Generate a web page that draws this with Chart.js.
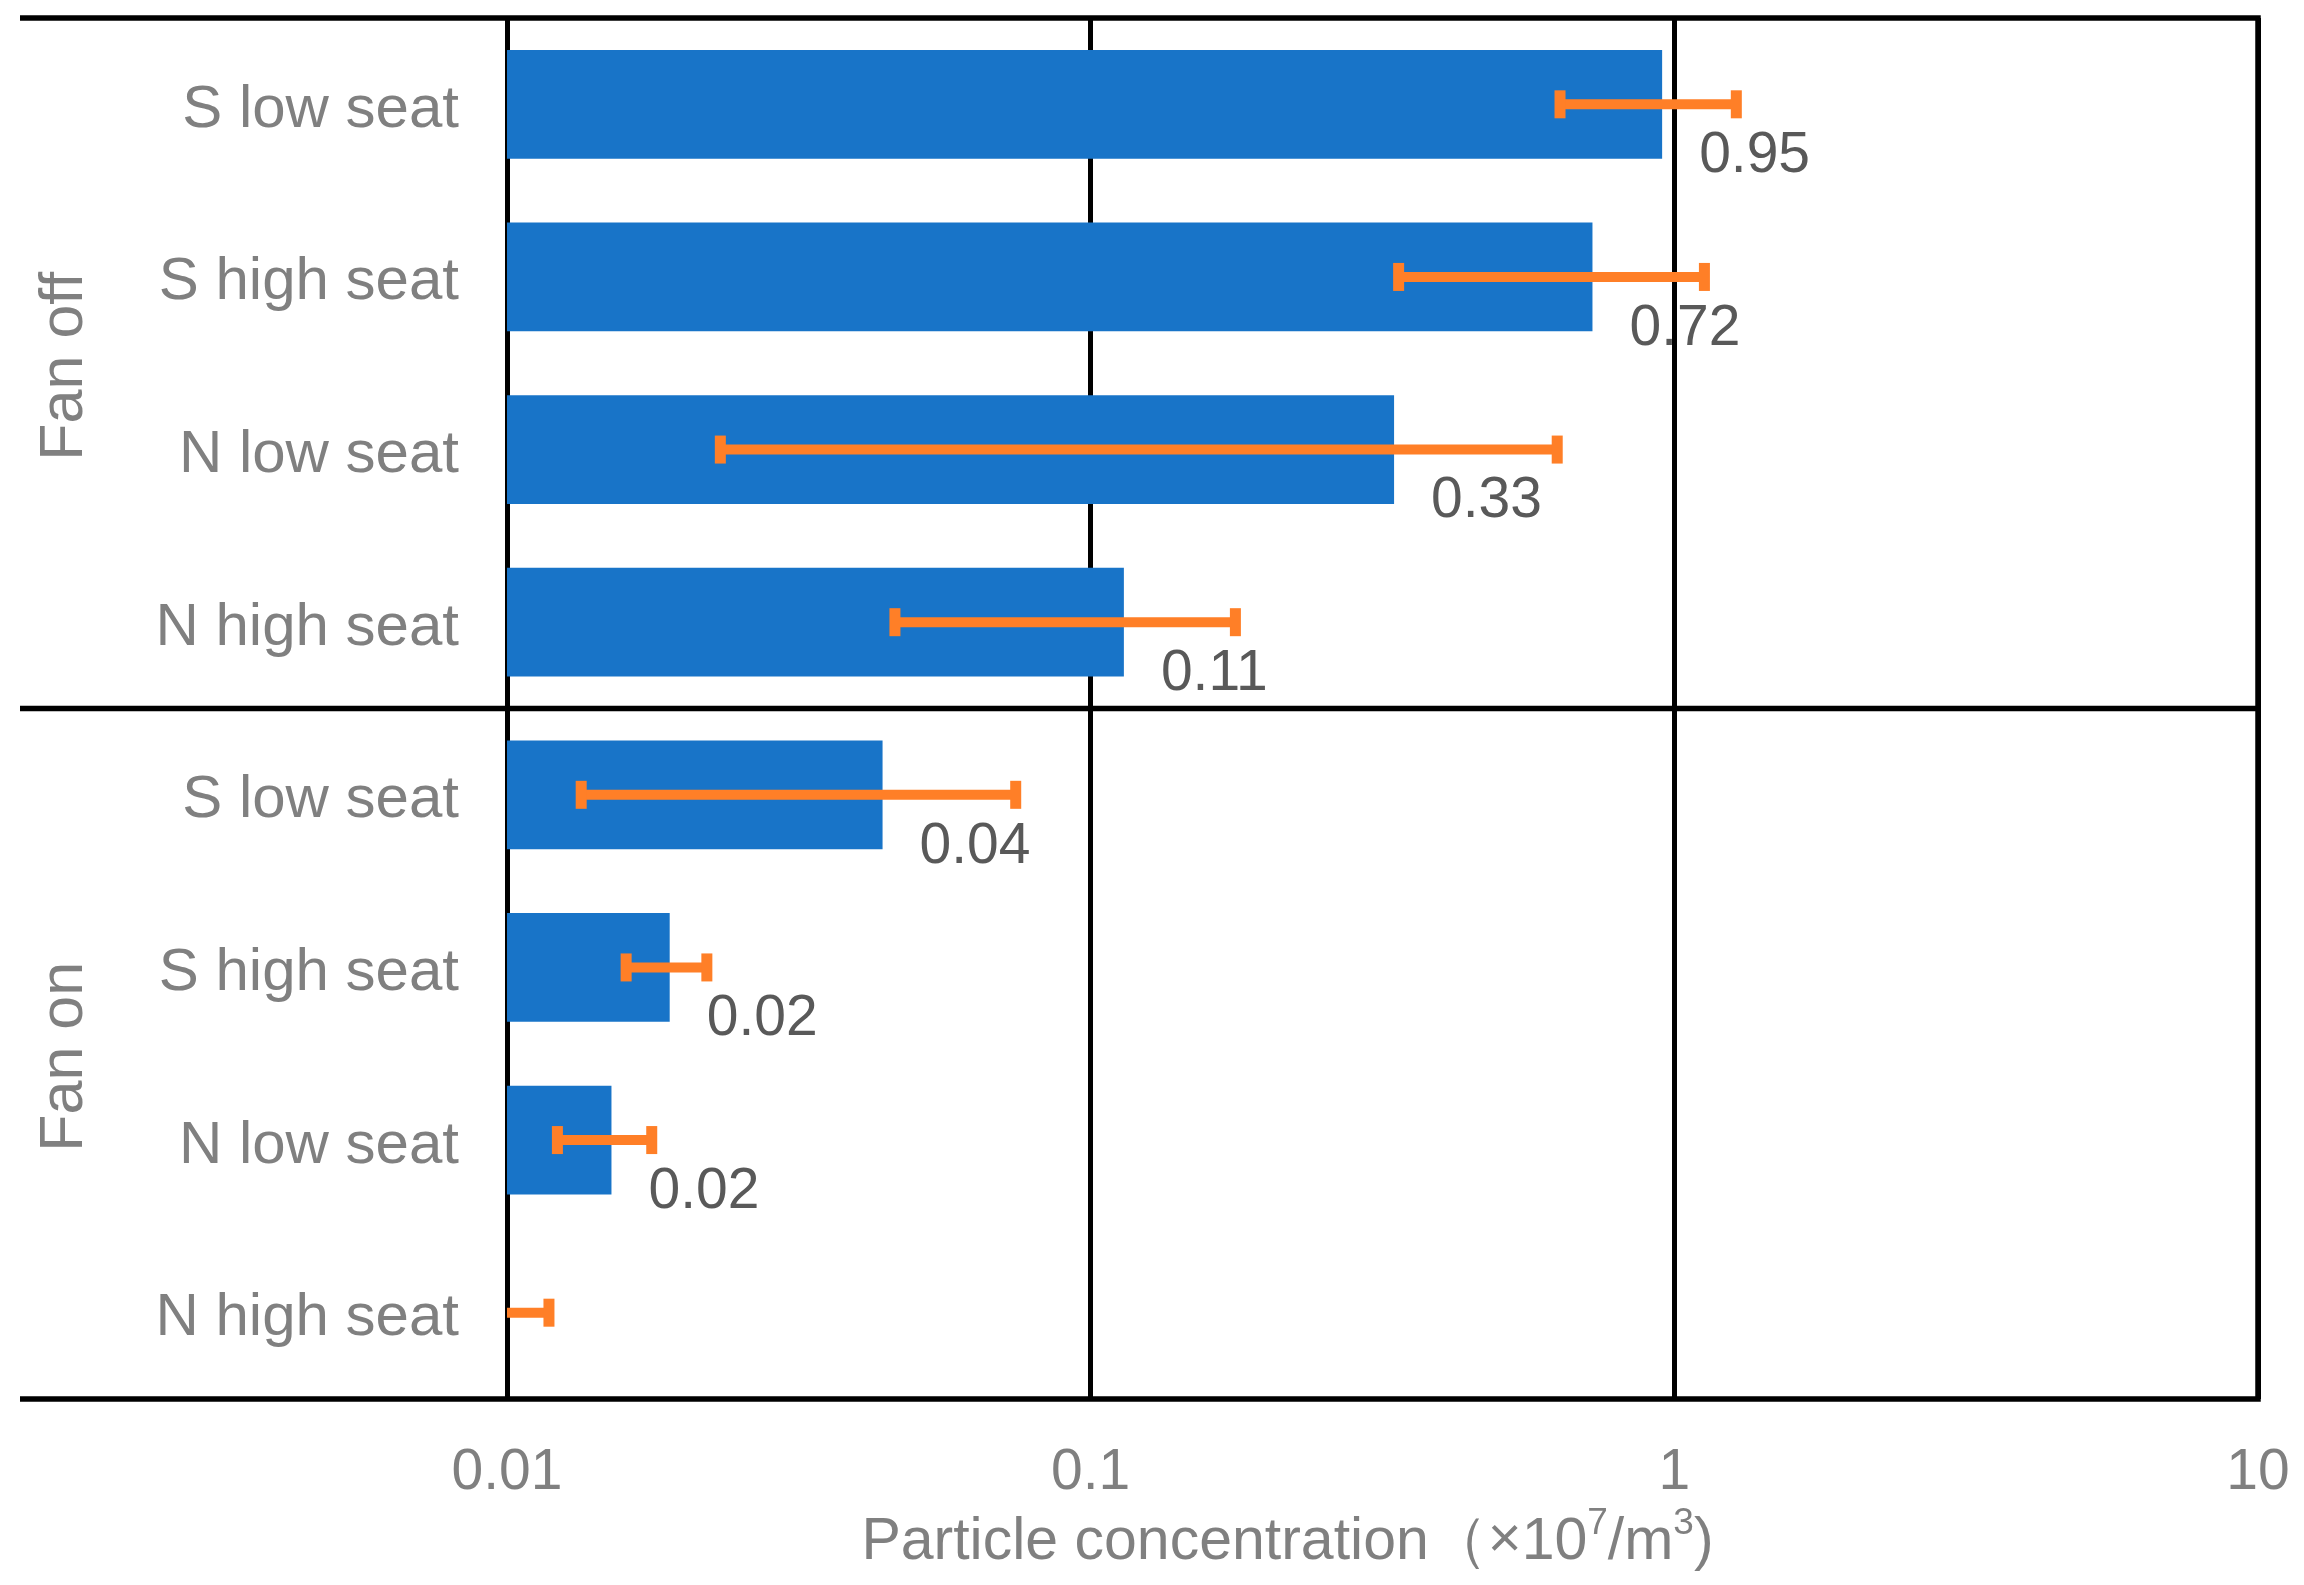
<!DOCTYPE html>
<html>
<head>
<meta charset="utf-8">
<script src="https://cdn.jsdelivr.net/npm/chart.js@4/dist/chart.umd.min.js"></script>
<style>
html,body{margin:0;padding:0;background:#fff;}
#wrap{width:2304px;height:1585px;}
</style>
</head>
<body>
<div id="wrap"><canvas id="c" width="2304" height="1585"></canvas></div>
<script>
const categories = ['S low seat','S high seat','N low seat','N high seat','S low seat','S high seat','N low seat','N high seat'];
const groups = ['Fan off','Fan on'];
const groupSize = [4, 4];
const values = [0.953, 0.724, 0.331, 0.114, 0.044, 0.019, 0.0151, 0.01];
const errLow = [0.637, 0.337, 0.0232, 0.0462, 0.0134, 0.0160, 0.0122, 0.0085];
const errHigh = [1.277, 1.126, 0.630, 0.177, 0.0744, 0.0220, 0.0177, 0.0118];
const valueLabels = ['0.95','0.72','0.33','0.11','0.04','0.02','0.02',''];
const xTicks = [0.01, 0.1, 1, 10];
const xTickLabels = ['0.01','0.1','1','10'];

const FONT = "'Liberation Sans', Arial, sans-serif";
const BLUE = '#1874C8';
const ORANGE = '#FF7F27';

const decor = {
  id: 'decor',
  afterDatasetsDraw(chart) {
    const ctx = chart.ctx, xs = chart.scales.x, ys = chart.scales.y, ca = chart.chartArea;
    // error bars
    ctx.save();
    ctx.beginPath();
    ctx.rect(ca.left, ca.top, ca.right - ca.left, ca.bottom - ca.top);
    ctx.clip();
    ctx.strokeStyle = ORANGE;
    ctx.fillStyle = ORANGE;
    ctx.lineWidth = 10;
    for (let i = 0; i < values.length; i++) {
      const y = ys.getPixelForValue(i);
      const x1 = xs.getPixelForValue(errLow[i]);
      const x2 = xs.getPixelForValue(errHigh[i]);
      ctx.beginPath();
      ctx.moveTo(x1, y); ctx.lineTo(x2, y); ctx.stroke();
      ctx.fillRect(x1 - 5.5, y - 14, 11, 28);
      ctx.fillRect(x2 - 5.5, y - 14, 11, 28);
    }
    ctx.restore();
    // value labels
    ctx.save();
    ctx.font = '57px ' + FONT;
    ctx.fillStyle = '#595959';
    ctx.textAlign = 'left';
    ctx.textBaseline = 'middle';
    for (let i = 0; i < values.length; i++) {
      if (!valueLabels[i]) continue;
      const y = ys.getPixelForValue(i);
      const x = xs.getPixelForValue(values[i]);
      ctx.fillText(valueLabels[i], x + 37, y + 52);
    }
    ctx.restore();
  },
  afterDraw(chart) {
    const ctx = chart.ctx, xs = chart.scales.x, ys = chart.scales.y, ca = chart.chartArea;
    ctx.save();
    ctx.strokeStyle = '#000';
    ctx.lineWidth = 5.5;
    const x0 = 20, x1 = ca.right + 2.75;
    const lines = [ca.top, ca.bottom];
    let idx = 0;
    for (let g = 0; g < groups.length - 1; g++) {
      idx += groupSize[g];
      lines.push((ys.getPixelForValue(idx - 1) + ys.getPixelForValue(idx)) / 2);
    }
    lines.forEach(y => { ctx.beginPath(); ctx.moveTo(x0, y); ctx.lineTo(x1, y); ctx.stroke(); });
    // right border
    ctx.beginPath(); ctx.moveTo(ca.right, ca.top); ctx.lineTo(ca.right, ca.bottom); ctx.stroke();
    ctx.restore();

    // group labels
    ctx.save();
    ctx.font = '61px ' + FONT;
    ctx.fillStyle = '#808080';
    ctx.textAlign = 'center';
    ctx.textBaseline = 'middle';
    let start = 0;
    groups.forEach((g, gi) => {
      const end = start + groupSize[gi] - 1;
      const yc = (ys.getPixelForValue(start) + ys.getPixelForValue(end)) / 2;
      ctx.save();
      ctx.translate(65, yc + 3);
      ctx.rotate(-Math.PI / 2);
      ctx.fillText(g, 0, 0);
      ctx.restore();
      start += groupSize[gi];
    });
    ctx.restore();

    // x axis title with superscripts
    ctx.save();
    ctx.fillStyle = '#808080';
    ctx.textBaseline = 'alphabetic';
    const big = '59px ' + FONT, small = '37px ' + FONT;
    const parts = [
      ['Particle concentration', big, 0],
      ['\uFF08', big, 0],
      ['\u00D7', '58px ' + FONT, -2],
      ['10', big, 0],
      ['7', small, -25],
      ['/m', big, 0],
      ['3', small, -25],
      [')', big, 0]
    ];
    let total = 0;
    parts.forEach(p => { ctx.font = p[1]; p.push(ctx.measureText(p[0]).width); total += p[3]; });
    let x = (ca.left + ca.right) / 2 - 95 - total / 2;
    const yb = ca.bottom + 160;
    parts.forEach(p => { ctx.font = p[1]; ctx.fillText(p[0], x, yb + p[2]); x += p[3]; });
    ctx.restore();
  }
};

new Chart(document.getElementById('c'), {
  type: 'bar',
  data: {
    labels: categories,
    datasets: [{
      data: values,
      backgroundColor: BLUE,
      borderWidth: 0,
      barPercentage: 0.63,
      categoryPercentage: 1.0
    }]
  },
  options: {
    indexAxis: 'y',
    responsive: false,
    animation: false,
    devicePixelRatio: 1,
    layout: { padding: { left: 0, right: 46, top: 18, bottom: 0 } },
    plugins: { legend: { display: false }, tooltip: { enabled: false } },
    scales: {
      x: {
        type: 'logarithmic',
        min: 0.01,
        max: 10,
        afterBuildTicks(scale) { scale.ticks = xTicks.map(v => ({ value: v })); },
        afterFit(scale) { scale.height = 186; scale.paddingLeft = 0; scale.paddingRight = 0; },
        ticks: {
          autoSkip: false,
          maxRotation: 0,
          padding: 40,
          color: '#808080',
          font: { family: FONT, size: 57 },
          callback: (v, i) => xTickLabels[i]
        },
        grid: { color: '#000', lineWidth: 5, drawTicks: false },
        border: { display: false }
      },
      y: {
        afterFit(scale) { scale.width = 507; scale.paddingTop = 0; scale.paddingBottom = 0; },
        ticks: {
          padding: 48,
          labelOffset: 6,
          color: '#808080',
          font: { family: FONT, size: 60 }
        },
        grid: { display: false, drawTicks: false },
        border: { display: false }
      }
    }
  },
  plugins: [decor]
});
</script>
</body>
</html>
